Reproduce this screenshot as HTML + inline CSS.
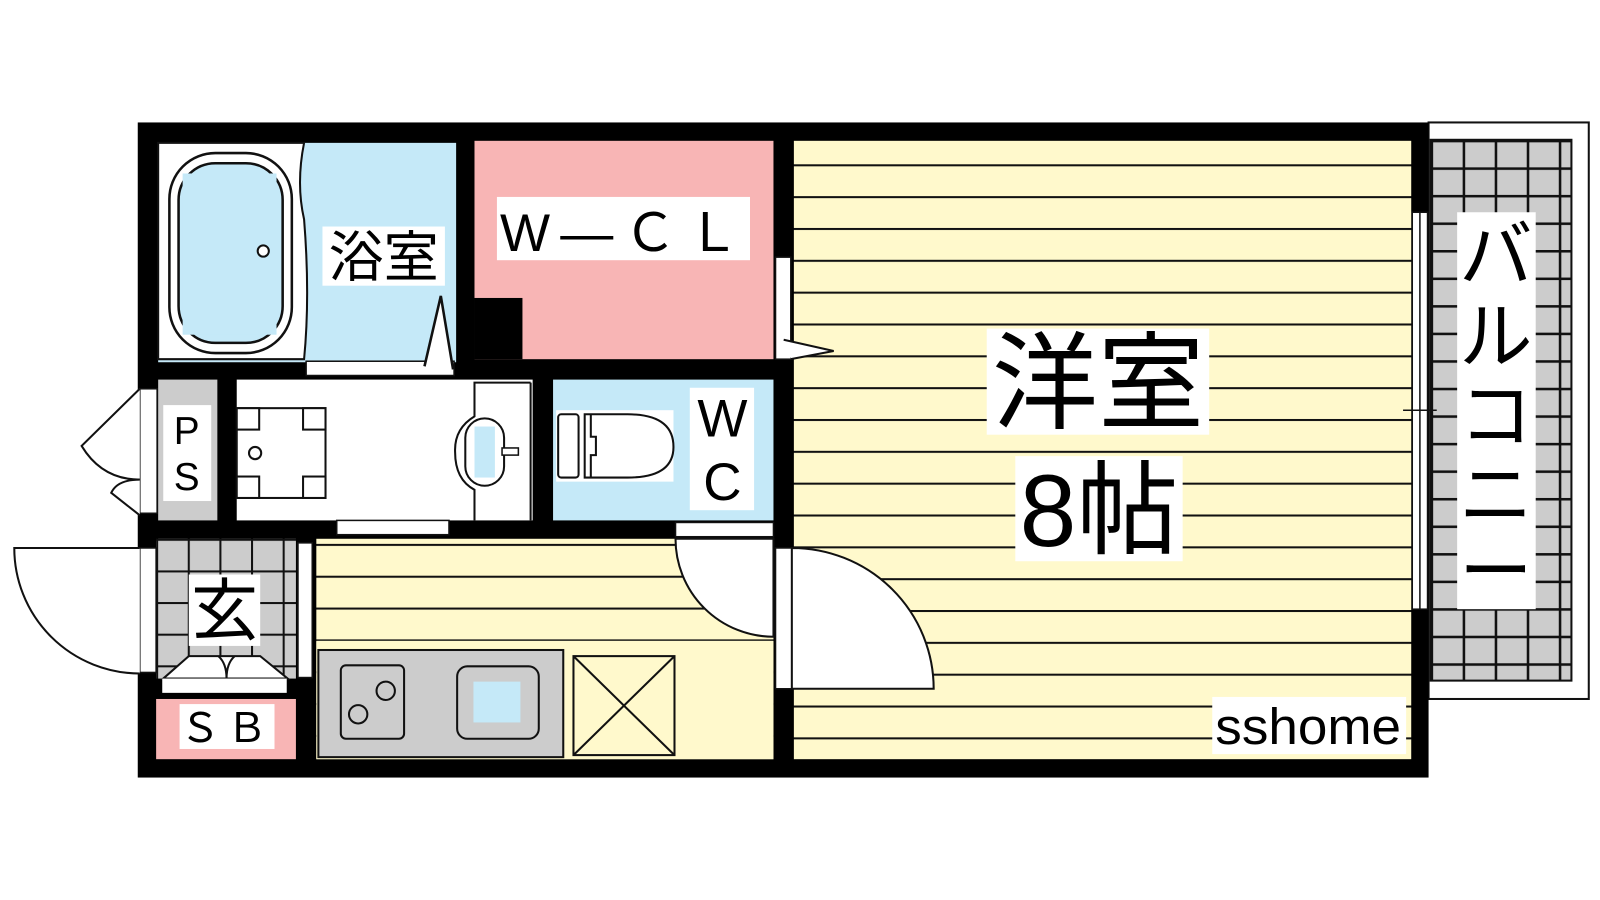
<!DOCTYPE html>
<html><head><meta charset="utf-8"><style>
html,body{margin:0;padding:0;background:#fff;width:1600px;height:900px;overflow:hidden}
svg{display:block}
text{font-family:"Liberation Sans","Noto Sans CJK JP",sans-serif;fill:#000}
</style></head><body>
<svg width="1600" height="900" viewBox="0 0 1568 882" xmlns="http://www.w3.org/2000/svg">
<defs>
<pattern id="fl" x="0" y="161" width="10" height="31.2" patternUnits="userSpaceOnUse">
<rect width="10" height="31.2" fill="#fff9cc"/><rect y="0" width="10" height="2" fill="#111"/>
</pattern>
<pattern id="fl2" x="0" y="533" width="10" height="31.2" patternUnits="userSpaceOnUse">
<rect width="10" height="31.2" fill="#fff9cc"/><rect y="0" width="10" height="2" fill="#111"/>
</pattern>
<pattern id="tile" x="1402" y="137" width="31.4" height="27" patternUnits="userSpaceOnUse">
<rect width="31.4" height="27" fill="#cccccc"/><rect width="2.5" height="27" fill="#111"/><rect width="31.4" height="2.5" fill="#111"/>
</pattern>
<pattern id="tile2" x="153" y="528" width="31" height="31" patternUnits="userSpaceOnUse">
<rect width="31" height="31" fill="#cccccc"/><rect x="0" width="2" height="31" fill="#111"/><rect width="31" height="2" fill="#111"/>
</pattern>
</defs>

<!-- balcony -->
<rect x="1400" y="120" width="157" height="565" fill="#fff" stroke="#111" stroke-width="2"/>
<rect x="1402" y="137" width="138" height="530" fill="url(#tile)" stroke="#111" stroke-width="2"/>
<rect x="1428" y="208" width="77" height="389" fill="#fff"/>
<text x="1466" y="275" font-size="72" text-anchor="middle">バ</text>
<text x="1466" y="355" font-size="72" text-anchor="middle">ル</text>
<text x="1466" y="432" font-size="72" text-anchor="middle">コ</text>
<text x="1466" y="510" font-size="72" text-anchor="middle">ニ</text>
<text x="1466" y="585" font-size="72" text-anchor="middle">ー</text>

<!-- outer wall -->
<rect x="135" y="120" width="1265" height="642" fill="#000"/>

<!-- main room -->
<rect x="778" y="138" width="605" height="606" fill="url(#fl)"/>
<!-- window -->
<rect x="1384" y="208" width="15" height="389" fill="#fff" stroke="#111" stroke-width="1.5"/>
<line x1="1391.5" y1="208" x2="1391.5" y2="597" stroke="#111" stroke-width="1.5"/>
<line x1="1375" y1="402" x2="1408" y2="402" stroke="#111" stroke-width="1.5"/>

<!-- bath -->
<rect x="155" y="140" width="292" height="215" fill="#c5e9f8"/>
<path d="M155 140 H298 Q290 180 298 215 Q304 290 298 352 H155 Z" fill="#fff" stroke="#111" stroke-width="2"/>
<rect x="166" y="150" width="120" height="196" rx="45" fill="#fff" stroke="#111" stroke-width="2.5"/>
<rect x="175" y="160" width="102" height="176" rx="36" fill="#c5e9f8" stroke="#111" stroke-width="2.5"/>
<rect x="179" y="170" width="92" height="158" fill="#c5e9f8"/>
<circle cx="258" cy="246" r="5.5" fill="#fff" stroke="#111" stroke-width="2"/>
<rect x="316" y="222" width="120" height="58" fill="#fff"/>
<text x="376" y="271" font-size="54" text-anchor="middle">浴室</text>
<rect x="300" y="354" width="145" height="14" fill="#fff" stroke="#111" stroke-width="1.5"/>
<path d="M416 359 L432 290 L444 362" fill="#fff" stroke="#111" stroke-width="2.5"/>

<!-- WCL -->
<rect x="465" y="138" width="293" height="214" fill="#f8b5b5"/>
<rect x="465" y="292" width="47" height="60" fill="#000"/>
<rect x="487" y="193" width="248" height="62" fill="#fff"/>
<text x="490" y="246" font-size="52" letter-spacing="10">W—ＣＬ</text>
<!-- door closet -->
<rect x="760" y="252" width="15" height="100" fill="#fff" stroke="#111" stroke-width="1.5"/>
<path d="M768 333 L817 344 L775 352" fill="#fff" stroke="#111" stroke-width="2"/>

<!-- PS -->
<rect x="155" y="372" width="58" height="138" fill="#cccccc"/>
<rect x="160" y="397" width="47" height="94" fill="#fff"/>
<text x="183" y="435" font-size="38" text-anchor="middle">P</text>
<text x="183" y="480" font-size="38" text-anchor="middle">S</text>
<rect x="137" y="381" width="17" height="122" fill="#fff" stroke="#111" stroke-width="1.5"/>
<path d="M137 381 L80 437 Q100 470 137 470" fill="#fff" stroke="#111" stroke-width="2"/>
<path d="M137 470 Q115 470 109 483 L137 505" fill="#fff" stroke="#111" stroke-width="2"/>

<!-- washroom -->
<rect x="232" y="372" width="290" height="138" fill="#fff"/>
<rect x="232" y="400" width="87" height="88" fill="#fff" stroke="#111" stroke-width="2"/>
<rect x="232" y="400" width="22" height="21" fill="#fff" stroke="#111" stroke-width="2"/>
<rect x="297" y="400" width="22" height="21" fill="#fff" stroke="#111" stroke-width="2"/>
<rect x="232" y="467" width="22" height="21" fill="#fff" stroke="#111" stroke-width="2"/>
<rect x="297" y="467" width="22" height="21" fill="#fff" stroke="#111" stroke-width="2"/>
<circle cx="250" cy="444" r="6" fill="#fff" stroke="#111" stroke-width="2"/>
<path d="M520 375 H465 V408 Q445 420 446 443 Q446 470 465 480 V510" fill="#fff" stroke="#111" stroke-width="2"/>
<line x1="520" y1="375" x2="520" y2="510" stroke="#111" stroke-width="2"/>
<rect x="456" y="410" width="38" height="66" rx="19" fill="#fff" stroke="#111" stroke-width="2"/>
<rect x="465" y="418" width="20" height="50" fill="#c5e9f8"/>
<rect x="492" y="439" width="16" height="7" fill="#fff" stroke="#111" stroke-width="1.5"/>
<rect x="330" y="510" width="110" height="14" fill="#fff" stroke="#111" stroke-width="1.5"/>

<!-- WC -->
<rect x="542" y="372" width="216" height="138" fill="#c5e9f8"/>
<rect x="545" y="402" width="115" height="70" fill="#fff"/>
<rect x="547" y="406" width="20" height="62" rx="3" fill="#fff" stroke="#111" stroke-width="2"/>
<path d="M573 406 H615 Q660 406 660 438 Q660 468 615 468 H573 Z" fill="#fff" stroke="#111" stroke-width="2"/>
<path d="M579 406 V428 H584 V446 H579 V468" fill="none" stroke="#111" stroke-width="2"/>
<rect x="676" y="380" width="63" height="120" fill="#fff"/>
<text x="708" y="428" font-size="52" text-anchor="middle">W</text>
<text x="708" y="490" font-size="52" text-anchor="middle">C</text>

<!-- entrance -->
<rect x="153" y="528" width="137" height="137" fill="url(#tile2)"/>
<rect x="185" y="563" width="70" height="70" fill="#fff"/>
<text x="220" y="622" font-size="66" text-anchor="middle">玄</text>
<path d="M160 665 L185 643 H255 L282 665 Z" fill="#fff" stroke="#111" stroke-width="2"/>
<path d="M214 643 Q222 650 222 665 Q222 650 230 643" fill="none" stroke="#111" stroke-width="2"/>
<rect x="159" y="665" width="122" height="14" fill="#fff"/>
<rect x="292" y="532" width="14" height="132" fill="#fff" stroke="#111" stroke-width="1.5"/>
<rect x="137" y="537" width="16" height="122" fill="#fff" stroke="#111" stroke-width="1.5"/>
<path d="M137 537 H14 A123 123 0 0 0 137 660" fill="#fff" stroke="#111" stroke-width="2"/>
<rect x="153" y="685" width="137" height="59" fill="#f8b5b5"/>
<rect x="176" y="690" width="93" height="44" fill="#fff"/>
<text x="222" y="727" font-size="40" text-anchor="middle" letter-spacing="6">ＳＢ</text>

<!-- corridor/kitchen -->
<rect x="310" y="528" width="448" height="216" fill="url(#fl2)"/>
<rect x="310" y="628" width="448" height="116" fill="#fff9cc"/>
<rect x="662" y="512" width="96" height="14" fill="#fff" stroke="#111" stroke-width="1.5"/>
<path d="M662 528 A96 96 0 0 0 758 624 V528 Z" fill="#fff" stroke="#111" stroke-width="2"/>
<rect x="312" y="637" width="240" height="105" fill="#cccccc" stroke="#111" stroke-width="2"/>
<rect x="334" y="652" width="62" height="72" rx="5" fill="#cccccc" stroke="#111" stroke-width="2"/>
<circle cx="378" cy="677" r="9" fill="none" stroke="#111" stroke-width="2"/>
<circle cx="351" cy="700" r="9" fill="none" stroke="#111" stroke-width="2"/>
<rect x="448" y="653" width="80" height="71" rx="10" fill="#cccccc" stroke="#111" stroke-width="2"/>
<rect x="464" y="668" width="46" height="40" fill="#c5e9f8"/>
<rect x="562" y="643" width="99" height="97" fill="none" stroke="#111" stroke-width="2"/>
<line x1="562" y1="643" x2="661" y2="740" stroke="#111" stroke-width="2"/>
<line x1="661" y1="643" x2="562" y2="740" stroke="#111" stroke-width="2"/>

<!-- door to main room -->
<rect x="760" y="537" width="16" height="138" fill="#fff" stroke="#111" stroke-width="1.5"/>
<path d="M776 537 A139 138 0 0 1 915 675 H776 Z" fill="#fff" stroke="#111" stroke-width="2"/>

<!-- main labels -->
<rect x="967" y="322" width="218" height="104" fill="#fff"/>
<text x="1076" y="412" font-size="104" text-anchor="middle">洋室</text>
<rect x="995" y="447" width="164" height="103" fill="#fff"/>
<text x="1077" y="535" font-size="100" text-anchor="middle">8帖</text>
<rect x="1188" y="683" width="190" height="56" fill="#fff"/>
<text x="1282" y="729" font-size="50" text-anchor="middle" textLength="182" lengthAdjust="spacingAndGlyphs">sshome</text>
</svg>
</body></html>
